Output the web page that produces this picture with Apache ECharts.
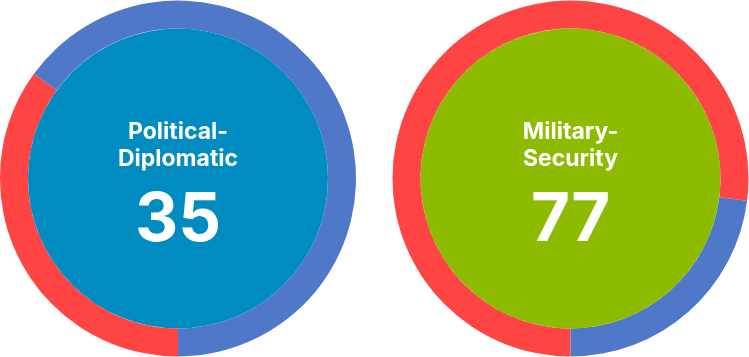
<!DOCTYPE html>
<html>
<head>
<meta charset="utf-8">
<script src="https://cdn.jsdelivr.net/npm/echarts@6/dist/echarts.min.js"></script>
<style>html,body{margin:0;padding:0;background:#fff}#c{width:749px;height:357px}</style>
</head>
<body>
<div id="c"></div>
<script>
var categories = ['Political-\nDiplomatic', 'Military-\nSecurity'];
var scores = [35, 77];
var ringRed = [35, 77];
var ringBlue = [65, 23];
var innerColors = ['#008CC1', '#8CBB00'];
var centers = [[178, 178.5], [570.5, 178.5]];

var chart = echarts.init(document.getElementById('c'), null, {renderer: 'canvas'});
var series = [];
categories.forEach(function (cat, i) {
  series.push({
    type: 'pie', radius: [150, 178], center: centers[i], startAngle: -90, clockwise: true,
    silent: true, label: {show: false}, labelLine: {show: false},
    itemStyle: {borderWidth: 0},
    data: [
      {value: ringRed[i], name: 'red', itemStyle: {color: '#FF4444'}},
      {value: ringBlue[i], name: 'blue', itemStyle: {color: '#5078C8'}}
    ]
  });
  series.push({
    type: 'pie', radius: [0, 150], center: centers[i], silent: true,
    labelLine: {show: false},
    itemStyle: {color: innerColors[i], borderWidth: 0},
    label: {
      show: true, position: 'center',
      formatter: function () {
        return cat.split('\n').map(function (s) { return '{t|' + s + '}'; }).join('\n') + '\n{n|' + scores[i] + '}';
      },
      padding: [30, 0, 0, 0],
      rich: {
        t: {fontFamily: 'Inter', fontWeight: 'bold', fontSize: 23, lineHeight: 27, color: '#fff'},
        n: {fontFamily: 'Inter', fontWeight: 'bold', fontSize: 67, lineHeight: 96, color: '#fff'}
      }
    },
    data: [{value: scores[i], name: cat}]
  });
});
chart.setOption({animation: false, series: series});
</script>
</body>
</html>
